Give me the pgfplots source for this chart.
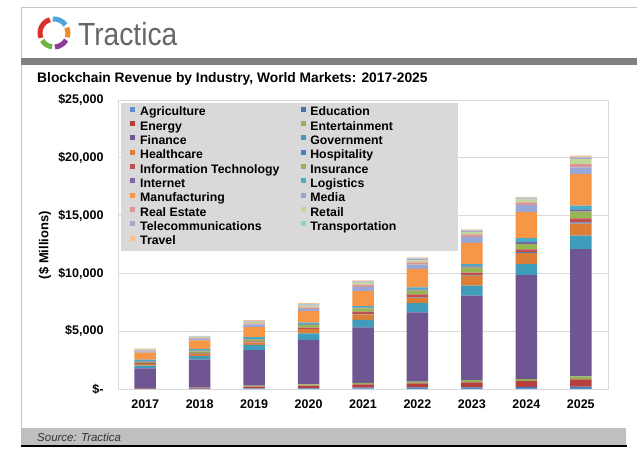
\documentclass[border=0pt]{standalone}
\usepackage{pgfplots}
\pgfplotsset{compat=1.18}
\usepackage{pgfplotstable}
\usepackage{fontspec}
\setmainfont{Liberation Sans}

\definecolor{gridc}{HTML}{D9D9D9}
\definecolor{legc}{HTML}{D9D9D9}
\definecolor{cAgr}{HTML}{5B8FD0}
\definecolor{cEdu}{HTML}{4A6FA5}
\definecolor{cEne}{HTML}{B5403D}
\definecolor{cEnt}{HTML}{94B357}
\definecolor{cFin}{HTML}{6F5592}
\definecolor{cGov}{HTML}{3F9CBA}
\definecolor{cHea}{HTML}{DC7E36}
\definecolor{cHos}{HTML}{4F7BC0}
\definecolor{cIT}{HTML}{C0504D}
\definecolor{cIns}{HTML}{95B652}
\definecolor{cInt}{HTML}{8064A2}
\definecolor{cLog}{HTML}{4BACC6}
\definecolor{cMan}{HTML}{F79646}
\definecolor{cMed}{HTML}{97A8D8}
\definecolor{cRE}{HTML}{D99694}
\definecolor{cRet}{HTML}{C3D69B}
\definecolor{cTel}{HTML}{B3A2C7}
\definecolor{cTra}{HTML}{93CDDD}
\definecolor{cTrv}{HTML}{FAC090}

\pgfplotstableread{
x Agr Edu Ene Ent Fin Gov Hea Hos IT Ins Int Log Man Med RE Ret Tel Tra Trv
0 10 10 30 20 1720 240 130 20 50 90 60 170 590 120 80 80 30 20 20
1 15 15 80 30 2400 295 200 20 70 120 70 165 735 140 90 80 30 20 20
2 30 30 150 80 3080 440 230 30 60 150 60 140 880 200 120 120 60 40 50
3 40 40 220 100 3840 565 370 30 110 225 60 140 990 200 140 140 90 60 75
4 50 60 300 120 4800 650 480 40 190 280 60 140 1300 360 190 180 80 60 60
5 70 70 350 150 5990 790 480 50 230 340 80 200 1600 350 200 180 100 70 80
6 70 80 420 190 7310 870 870 60 200 430 100 200 1850 520 200 200 100 60 70
7 90 100 520 150 9000 950 950 80 230 460 170 350 2250 600 250 250 90 60 60
8 100 100 630 270 11010 1160 1040 100 350 575 170 350 2740 575 290 430 120 80 90
}\data

\begin{document}
\begin{tikzpicture}
\useasboundingbox (0bp,0bp) rectangle (642bp,-457bp);
\fill[white] (0bp,0bp) rectangle (642bp,-457bp);
% frame
\draw[color=black!22, line width=1bp] (21bp,-446bp) -- (21bp,-7bp) -- (637bp,-7bp);
% logo
\begin{scope}[shift={(54bp,-33bp)}, line width=5bp]
\draw[color={rgb,255:red,79;green,163;blue,217}] (35:14bp) arc (35:95:14bp);
\draw[color={rgb,255:red,217;green,49;blue,43}] (107:14bp) arc (107:200:14bp);
\draw[color={rgb,255:red,109;green,179;blue,63}] (212:14bp) arc (212:262:14bp);
\draw[color={rgb,255:red,142;green,58;blue,154}] (274:14bp) arc (274:330:14bp);
\draw[color={rgb,255:red,240;green,138;blue,36}] (342:14bp) arc (342:383:14bp);
\end{scope}
\node[anchor=base west, inner sep=0pt, text=black!60] at (78bp,-45bp)
  {\scalebox{0.88}[1]{\fontsize{32bp}{36bp}\selectfont Tractica}};
% header bar
\fill[black!50] (21bp,-58bp) rectangle (637bp,-65bp);
% title
\node[anchor=base west, inner sep=0pt] at (37bp,-82bp)
  {\bfseries\fontsize{13.8bp}{16bp}\selectfont Blockchain Revenue by Industry, World Markets: 2017-2025};
% footer
\fill[black!25] (21bp,-428bp) rectangle (626bp,-445bp);
\draw[black, line width=1.5bp] (21bp,-446bp) -- (627bp,-446bp);
\node[anchor=west, inner sep=0pt, text=black!80] at (37bp,-437bp)
  {\itshape\fontsize{11.5bp}{13bp}\selectfont Source: Tractica};

\begin{axis}[
  at={(118bp,-389bp)}, anchor=south west,
  scale only axis, width=490bp, height=289bp,
  ybar stacked, bar width=21.5bp,
  xmin=-0.5, xmax=8.5, ymin=0, ymax=25000,
  scaled y ticks=false,
  xtick={0,...,8},
  xticklabels={2017,2018,2019,2020,2021,2022,2023,2024,2025},
  ytick={0,5000,10000,15000,20000,25000},
  yticklabels={{\$-},{\$5,000},{\$10,000},{\$15,000},{\$20,000},{\$25,000}},
  ymajorgrids, grid style={draw=gridc, line width=0.9bp},
  axis line style={draw=gridc, line width=0.9bp},
  major tick length=0pt,
  tick label style={font=\bfseries\fontsize{12.5bp}{14bp}\selectfont, text=black},
  yticklabel style={xshift=-11bp},
  xticklabel style={yshift=-7bp},
  ylabel={(\$ Millions)},
  ylabel style={at={(axis description cs:-0.149,0.498)}, anchor=center,
    font=\bfseries\fontsize{13bp}{15bp}\selectfont},
  legend columns=2, legend cell align=left,
  legend style={at={(axis description cs:0.0061,0.9896)}, anchor=north west,
    fill=legc, draw=none, inner xsep=9bp, inner ysep=3.5bp, row sep=2.83bp,
    font=\bfseries\fontsize{12.3bp}{14bp}\selectfont,
    nodes={inner sep=0pt, text height=9bp, text depth=2.5bp},
    /tikz/column 1/.style={column sep=5bp},
    /tikz/column 2/.style={column sep=22bp},
    /tikz/column 3/.style={column sep=4bp},
    /tikz/column 4/.style={nodes={text width=139bp, align=left}}},
  every axis plot post/.append style={legend image code/.code={\fill[##1] (0bp,0.7bp) rectangle (5bp,5.7bp);}},
]
\addplot[fill=cAgr, draw=none] table[x=x, y=Agr] {\data};
\addlegendentry{Agriculture}
\addplot[fill=cEdu, draw=none] table[x=x, y=Edu] {\data};
\addlegendentry{Education}
\addplot[fill=cEne, draw=none] table[x=x, y=Ene] {\data};
\addlegendentry{Energy}
\addplot[fill=cEnt, draw=none] table[x=x, y=Ent] {\data};
\addlegendentry{Entertainment}
\addplot[fill=cFin, draw=none] table[x=x, y=Fin] {\data};
\addlegendentry{Finance}
\addplot[fill=cGov, draw=none] table[x=x, y=Gov] {\data};
\addlegendentry{Government}
\addplot[fill=cHea, draw=none] table[x=x, y=Hea] {\data};
\addlegendentry{Healthcare}
\addplot[fill=cHos, draw=none] table[x=x, y=Hos] {\data};
\addlegendentry{Hospitality}
\addplot[fill=cIT, draw=none] table[x=x, y=IT] {\data};
\addlegendentry{Information Technology}
\addplot[fill=cIns, draw=none] table[x=x, y=Ins] {\data};
\addlegendentry{Insurance}
\addplot[fill=cInt, draw=none] table[x=x, y=Int] {\data};
\addlegendentry{Internet}
\addplot[fill=cLog, draw=none] table[x=x, y=Log] {\data};
\addlegendentry{Logistics}
\addplot[fill=cMan, draw=none] table[x=x, y=Man] {\data};
\addlegendentry{Manufacturing}
\addplot[fill=cMed, draw=none] table[x=x, y=Med] {\data};
\addlegendentry{Media}
\addplot[fill=cRE, draw=none] table[x=x, y=RE] {\data};
\addlegendentry{Real Estate}
\addplot[fill=cRet, draw=none] table[x=x, y=Ret] {\data};
\addlegendentry{Retail}
\addplot[fill=cTel, draw=none] table[x=x, y=Tel] {\data};
\addlegendentry{Telecommunications}
\addplot[fill=cTra, draw=none] table[x=x, y=Tra] {\data};
\addlegendentry{Transportation}
\addplot[fill=cTrv, draw=none] table[x=x, y=Trv] {\data};
\addlegendentry{Travel}
\end{axis}
\end{tikzpicture}
\end{document}
